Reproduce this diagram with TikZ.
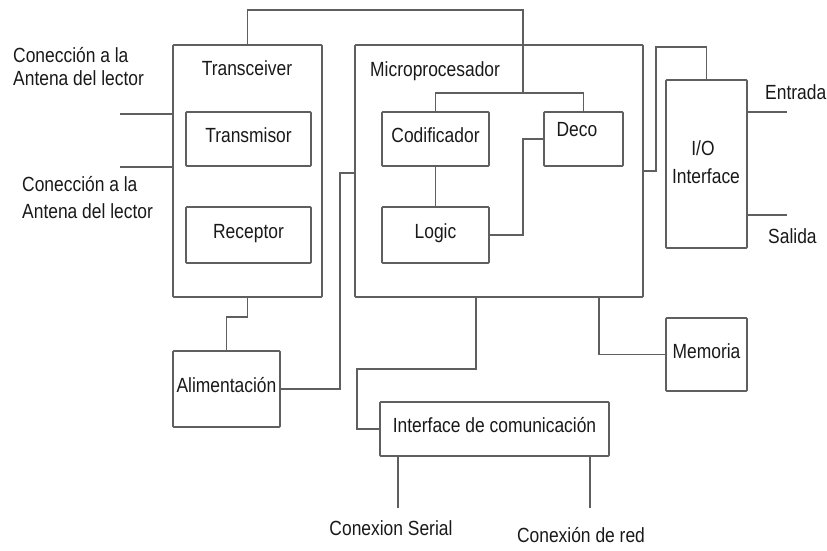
\documentclass[tikz,border=0pt]{standalone}
\usepackage{fontspec}
\setmainfont{Liberation Sans}[FakeStretch=0.85]
\definecolor{linec}{RGB}{95,95,95}
\definecolor{textc}{RGB}{25,25,25}
\begin{document}
\begin{tikzpicture}[x=1pt,y=-1pt,
  wire/.style={draw=linec, line width=1.6pt},
  blk/.style={draw=linec, line width=1.6pt, rounded corners=0.8pt, inner sep=0pt,
              text=textc, text height=0.72em, text depth=0pt},
  txt/.style={inner sep=0pt, text=textc, text height=0.72em, text depth=0pt},
  font=\fontsize{20.5}{27}\selectfont]
\useasboundingbox (0,0) rectangle (827,551);

% blocks
\node[blk, minimum width=149pt, minimum height=252pt] (trx) at (247.5,171) {};
\node[blk, minimum width=125pt, minimum height=54pt] (tx) at (248.5,139) {Transmisor};
\node[blk, minimum width=125pt, minimum height=56pt] (rx) at (248.5,235) {Receptor};
\node[blk, minimum width=288pt, minimum height=252pt] (mp) at (499,171) {};
\node[blk, minimum width=107pt, minimum height=54pt] (cod) at (435.5,139) {Codificador};
\node[blk, minimum width=79pt, minimum height=54pt] (deco) at (583.5,139) {};
\node[blk, minimum width=107pt, minimum height=56pt] (logic) at (435.5,235) {Logic};
\node[blk, minimum width=81pt, minimum height=168pt] (io) at (706.5,164) {};
\node[blk, minimum width=81pt, minimum height=73pt] (mem) at (706.5,354.5) {Memoria};
\node[blk, minimum width=107pt, minimum height=76pt] (ali) at (226.5,389) {Alimentación};
\node[blk, minimum width=229pt, minimum height=54pt] (com) at (494.5,429) {Interface de comunicación};

% block titles and labels
\node[txt] (trxlab) at (247,72) {Transceiver};
\node[txt, anchor=west] (mplab) at (370,73) {Microprocesador};
\node[txt] (decolab) at (577,133) {Deco};
\node[txt] (iolab1) at (703,152) {I/O};
\node[txt] (iolab2) at (706,180) {Interface};

\node[txt, anchor=west] (ant1a) at (13,58.5) {Conección a la};
\node[txt, anchor=west] (ant1b) at (13,82) {Antena del lector};
\node[txt, anchor=west] (ant2a) at (22,188) {Conección a la};
\node[txt, anchor=west] (ant2b) at (22,215) {Antena del lector};
\node[txt, anchor=west] (entlab) at (765,96) {Entrada};
\node[txt, anchor=west] (sallab) at (768,240) {Salida};
\node[txt] (serlab) at (391,532) {Conexion Serial};
\node[txt] (redlab) at (581,539) {Conexión de red};

% connection points
\coordinate (busTop) at (523,10);
\coordinate (bus) at (523,93);
\coordinate (ant1) at (120,114);
\coordinate (ant2) at (120,167);
\coordinate (ldj) at (523,139);
\coordinate (aj) at (340,173);
\coordinate (mcj) at (476,369);
\coordinate (cj2) at (357,429);
\coordinate (memj) at (599,297);
\coordinate (ioj) at (656,47);
\coordinate (ent) at (787,112);
\coordinate (sal) at (787,215);
\coordinate (ser) at (398,508);
\coordinate (red) at (590,508);

% wiring
\draw[wire] (trx.north) |- (busTop) -- (bus);
\draw[wire] (cod.north) |- (bus) -| (deco.north);
\draw[wire] (ant1) -- (ant1 -| trx.west);
\draw[wire] (ant2) -- (ant2 -| trx.west);
\draw[wire] (cod.south) -- (logic.north);
\draw[wire] (logic.east) -| (ldj) -- (deco.west);
\draw[wire] (trx.south) -- ++(0,19) -| (ali.north);
\draw[wire] (ali.east) -| (aj) -- (aj -| mp.west);
\draw[wire] (mcj |- mp.south) -- (mcj) -| (cj2) -- (com.west);
\draw[wire] (memj) |- (mem.west);
\draw[wire] (mp.east) -| (ioj) -| (io.north);
\draw[wire] (ent -| io.east) -- (ent);
\draw[wire] (sal -| io.east) -- (sal);
\draw[wire] (ser |- com.south) -- (ser);
\draw[wire] (red |- com.south) -- (red);
\end{tikzpicture}
\end{document}
